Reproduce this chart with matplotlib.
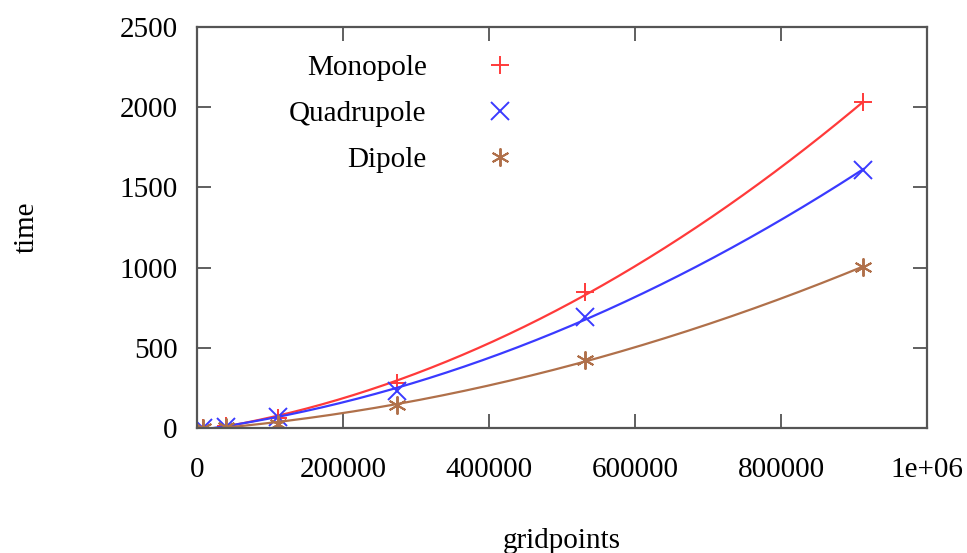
import matplotlib.pyplot as plt
import numpy as np

plt.rcParams['font.family'] = ['Liberation Serif', 'DejaVu Serif']

# grid sizes (n^3) and measured times
gridpoints = np.array([8000, 39304, 110592, 274625, 531441, 912673])
monopole = np.array([1, 10, 62, 282, 848, 2030])
quadrupole = np.array([1, 8, 70, 230, 694, 1610])
dipole = np.array([0.5, 4, 25, 144, 425, 1005])

names = ['Monopole', 'Quadrupole', 'Dipole']
colors = ['#ff3a3a', '#3a3aff', '#b0704a']
markers = ['+', 'x', (6, 2, 0)]

fig = plt.figure(figsize=(9.67, 5.53), dpi=100)
ax = fig.add_axes([0.2037, 0.226, 0.755, 0.725])

xs = np.linspace(0, gridpoints[-1], 300)
for y, name, c, m in zip([monopole, quadrupole, dipole], names, colors, markers):
    # quadratic fit line through the measurements
    p = np.polyfit(gridpoints, y, 2)
    ax.plot(xs, np.polyval(p, xs), color=c, lw=1.6)
    ax.plot(gridpoints, y, linestyle='none', marker=m, color=c,
            markersize=13, markeredgewidth=1.4, label=name)

ax.set_xlim(0, 1e6)
ax.set_ylim(0, 2500)
ax.set_xticks([0, 200000, 400000, 600000, 800000, 1000000])
ax.set_xticklabels(['0', '200000', '400000', '600000', '800000', '1e+06'])
ax.set_yticks([0, 500, 1000, 1500, 2000, 2500])
ax.tick_params(direction='in', length=10, width=1.2, top=True, right=True,
               labelsize=21, color='#444444')
ax.tick_params(axis='x', pad=21)
ax.tick_params(axis='y', pad=14)
for s in ax.spines.values():
    s.set_color('#555555')
    s.set_linewidth(1.6)

ax.set_xlabel('gridpoints', fontsize=21)
ax.set_ylabel('time', fontsize=21)
ax.xaxis.set_label_coords(0.5, -0.25)
ax.yaxis.set_label_coords(-0.215, 0.5)

ax.legend(loc='upper right', bbox_to_anchor=(0.574, 0.949),
          bbox_transform=fig.transFigure, frameon=False, markerfirst=False,
          fontsize=21, handlelength=2.0, handletextpad=1.5, labelspacing=0.68)

plt.savefig('out.png')
